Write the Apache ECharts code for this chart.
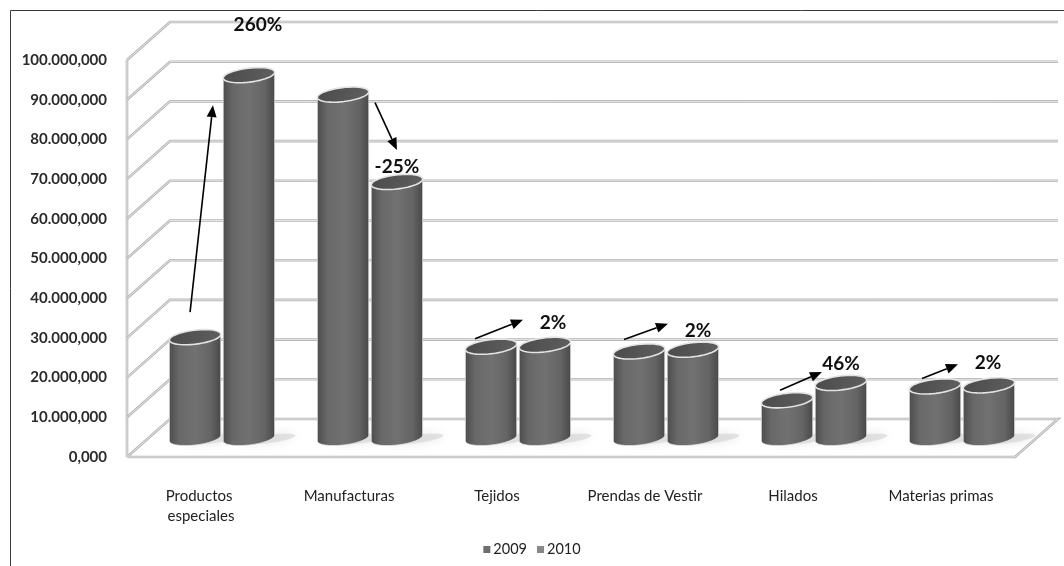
<!DOCTYPE html>
<html>
<head>
<meta charset="utf-8">
<script src="https://cdn.jsdelivr.net/npm/echarts@6/dist/echarts.min.js"></script>
<style>
  html, body { margin: 0; padding: 0; background: #fff; }
  #chart { width: 1064px; height: 566px; }
</style>
</head>
<body>
<div id="chart"></div>
<script>
// Export values by product group, 2009 vs 2010
const categories = ['Productos especiales', 'Manufacturas', 'Tejidos', 'Prendas de Vestir', 'Hilados', 'Materias primas'];
const values2009 = [25400000, 86500000, 23000000, 21800000, 9500000, 13000000];
const values2010 = [91400000, 64500000, 23460000, 22240000, 13870000, 13260000];
const changeLabels = ['260%', '-25%', '2%', '2%', '46%', '2%'];
const yTicks = [0, 10000000, 20000000, 30000000, 40000000, 50000000, 60000000, 70000000, 80000000, 90000000, 100000000];
const seriesNames = ['2009', '2010'];

// 3D look: depth offset of the back wall and of the bar row (px)
const DEPTH = { dx: 43, dy: -38 };
const MID = { dx: 21, dy: -19 };
const BAR = 0.35;      // bar width as a share of the category band
const PAIR = 0.182;    // half distance between the two bars of a pair
const TILT = -0.12;    // tilt of the cylinder ellipses

// arrow start (from 2009 top), arrow end and label (from 2010 top), px offsets
const arrowLayout = [
  { a: [-5, -25], b: [-36, 30], t: [9, -50] },
  { a: [32, 8], b: [0, -32], t: [0, -15] },
  { a: [-16, -8], b: [-22, -25], t: [8, -22] },
  { a: [-15, -12], b: [-25, -26], t: [5, -19] },
  { a: [-7, -10], b: [-19, -11], t: [0, -19] },
  { a: [-13, -8], b: [-31, -21], t: [-1, -22] }
];

function fmtY(v) {
  const k = Math.round(v / 1000).toString().replace(/\B(?=(\d{3})+(?!\d))/g, '.');
  return k + ',000';
}

function ellipsePts(cx, cy, a, b, t0, t1, n) {
  const pts = [];
  const cp = Math.cos(TILT), sp = Math.sin(TILT);
  for (let k = 0; k <= n; k++) {
    const t = t0 + (t1 - t0) * k / n;
    const x = a * Math.cos(t), y = b * Math.sin(t);
    pts.push([cx + x * cp - y * sp, cy + x * sp + y * cp]);
  }
  return pts;
}

function gridLine(points) {
  return [
    { type: 'polyline', shape: { points }, style: { stroke: '#b4b4b4', lineWidth: 2.6, fill: null } },
    { type: 'polyline', shape: { points }, style: { stroke: '#ececec', lineWidth: 0.9, fill: null } }
  ];
}

// back wall, side wall and floor
const wallSeries = {
  type: 'custom',
  name: 'wall',
  silent: true,
  clip: false,
  z: 1,
  data: yTicks.map(v => [0, v]),
  encode: { x: 0, y: 1 },
  renderItem(params, api) {
    const cs = params.coordSys;
    const x0 = cs.x, x1 = cs.x + cs.width;
    const yF = api.coord([0, api.value(1)])[1];
    const children = [];
    if (api.value(1) === 0) {
      const floor = [[x0, yF], [x1, yF], [x1 + DEPTH.dx, yF + DEPTH.dy], [x0 + DEPTH.dx, yF + DEPTH.dy], [x0, yF]];
      children.push({ type: 'polygon', shape: { points: floor }, style: { fill: '#fff' } });
      children.push(...gridLine(floor));
      const yTop = api.coord([0, yTicks[yTicks.length - 1]])[1];
      children.push(...gridLine([[x0, yTop], [x0, yF]]));
    } else {
      children.push(...gridLine([[x0, yF], [x0 + DEPTH.dx, yF + DEPTH.dy], [x1 + DEPTH.dx, yF + DEPTH.dy]]));
    }
    return { type: 'group', children };
  }
};

function cylinderSeries(name, values, side, color) {
  return {
    type: 'custom',
    name,
    silent: true,
    clip: false,
    z: 3,
    itemStyle: { color },
    data: values.map((v, i) => [i, v]),
    encode: { x: 0, y: 1 },
    renderItem(params, api) {
      const i = api.value(0), v = api.value(1);
      const band = api.size([1, 0])[0];
      const base = api.coord([i, 0]);
      const top = api.coord([i, v]);
      const cx = base[0] + MID.dx + side * band * PAIR;
      const by = base[1] + MID.dy;
      const ty = top[1] + MID.dy;
      const a = band * BAR / 2, b = a * 0.27;
      const body = ellipsePts(cx, by, a, b, 0, Math.PI, 24).concat(ellipsePts(cx, ty, a, b, Math.PI, 2 * Math.PI, 24));
      return {
        type: 'group',
        children: [
          {
            type: 'polygon',
            shape: { points: ellipsePts(cx + 18, by + 1, a * 1.1, b * 0.6, 0, 2 * Math.PI, 40) },
            style: { fill: 'rgba(185,185,185,0.35)', shadowBlur: 10, shadowColor: 'rgba(160,160,160,0.7)' }
          },
          {
            type: 'polygon',
            shape: { points: body },
            style: {
              fill: new echarts.graphic.LinearGradient(0, 0, 1, 0, [
                { offset: 0, color: '#4c4c4c' },
                { offset: 0.2, color: '#686868' },
                { offset: 0.5, color: '#717171' },
                { offset: 0.8, color: '#646464' },
                { offset: 1, color: '#484848' }
              ]),
              stroke: 'rgba(235,235,235,0.7)',
              lineWidth: 1
            }
          },
          {
            type: 'polygon',
            shape: { points: ellipsePts(cx, ty, a, b, 0, 2 * Math.PI, 48) },
            style: {
              fill: new echarts.graphic.LinearGradient(0, 0, 1, 1, [
                { offset: 0, color: '#4a4a4a' },
                { offset: 1, color: '#606060' }
              ]),
              stroke: '#e4e4e4',
              lineWidth: 1.6
            }
          }
        ]
      };
    }
  };
}

// change arrows and percentage labels
const changeSeries = {
  type: 'custom',
  name: 'change',
  silent: true,
  clip: false,
  z: 5,
  data: values2009.map((v, i) => [i, v, values2010[i]]),
  encode: { x: 0, y: [1, 2] },
  renderItem(params, api) {
    const i = api.value(0);
    const band = api.size([1, 0])[0];
    const base = api.coord([i, 0]);
    const c09 = base[0] + MID.dx - band * PAIR;
    const c10 = base[0] + MID.dx + band * PAIR;
    const t09 = api.coord([i, api.value(1)])[1] + MID.dy;
    const t10 = api.coord([i, api.value(2)])[1] + MID.dy;
    const L = arrowLayout[i];
    const A = [c09 + L.a[0], t09 + L.a[1]];
    const B = [c10 + L.b[0], t10 + L.b[1]];
    const ang = Math.atan2(B[1] - A[1], B[0] - A[0]);
    const hl = 12, hw = 5;
    const bx = B[0] - hl * Math.cos(ang), byy = B[1] - hl * Math.sin(ang);
    const nx = -Math.sin(ang) * hw, ny = Math.cos(ang) * hw;
    return {
      type: 'group',
      children: [
        { type: 'line', shape: { x1: A[0], y1: A[1], x2: bx, y2: byy }, style: { stroke: '#000', lineWidth: 1.6 } },
        { type: 'polygon', shape: { points: [B, [bx + nx, byy + ny], [bx - nx, byy - ny]] }, style: { fill: '#000' } },
        {
          type: 'text',
          x: c10 + L.t[0], y: t10 + L.t[1],
          style: {
            text: changeLabels[i], align: 'center', verticalAlign: 'middle',
            font: 'bold 19px Lato, "Open Sans", sans-serif', fill: '#111'
          }
        }
      ]
    };
  }
};

const chart = echarts.init(document.getElementById('chart'), null, { renderer: 'canvas' });
chart.setOption({
  backgroundColor: '#fff',
  animation: false,
  textStyle: { fontFamily: 'Lato, "Open Sans", sans-serif' },
  graphic: [{
    type: 'rect', silent: true, z: 0,
    shape: { x: 10.5, y: 10.5, width: 1100, height: 600 },
    style: { fill: null, stroke: '#3a3a3a', lineWidth: 1 }
  }],
  grid: { left: 127, right: 49, top: 60, bottom: 109, containLabel: false },
  legend: {
    data: seriesNames,
    bottom: 4,
    left: 'center',
    icon: 'rect',
    itemWidth: 7,
    itemHeight: 7,
    itemGap: 10,
    textStyle: { fontSize: 14.5, color: '#222', padding: [0, 0, 0, -2] }
  },
  xAxis: {
    type: 'category',
    data: categories,
    axisLine: { show: false },
    axisTick: { show: false },
    axisLabel: {
      margin: 29, fontSize: 15, color: '#222', lineHeight: 20,
      width: 125, overflow: 'break', interval: 0
    }
  },
  yAxis: {
    type: 'value',
    min: 0,
    max: 100000000,
    interval: 10000000,
    axisLine: { show: false },
    axisTick: { show: false },
    splitLine: { show: false },
    axisLabel: { margin: 20, fontSize: 15, fontWeight: 'bold', color: '#2a2a2a', formatter: fmtY }
  },
  series: [
    wallSeries,
    cylinderSeries('2009', values2009, -1, '#6e6e6e'),
    cylinderSeries('2010', values2010, 1, '#888888'),
    changeSeries
  ]
});
</script>
</body>
</html>
